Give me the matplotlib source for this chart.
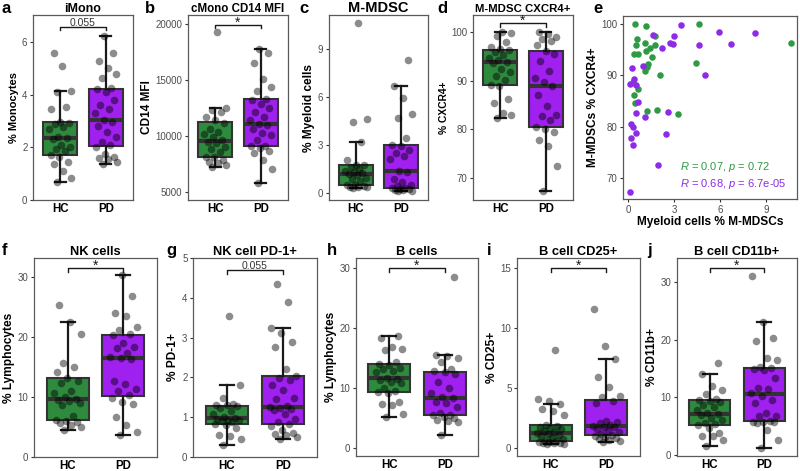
import numpy as np
import matplotlib.pyplot as plt

plt.rcParams['font.family'] = ['Liberation Sans', 'DejaVu Sans']
plt.rcParams['mathtext.fontset'] = 'custom'
plt.rcParams['mathtext.rm'] = 'Liberation Sans'
plt.rcParams['mathtext.it'] = 'Liberation Sans:italic'

GREEN = '#2e8b3e'
PURPLE = '#a020f0'
SC_GREEN = '#2f9a44'
SC_PURPLE = '#8d2be6'
EDGE = '#333333'
FIG_W, FIG_H = 800, 471

groups = ['HC', 'PD']

# a: iMono (% Monocytes)
imono_hc = [0.7, 0.82, 1.1, 1.35, 1.45, 1.62, 1.7, 1.85, 1.95, 2.02, 2.1, 2.3, 2.35,
            2.4, 2.7, 2.78, 2.9, 2.93, 2.95, 3.45, 3.55, 4.12, 4.15, 5.1, 5.6]
imono_pd = [1.38, 1.45, 1.55, 1.6, 1.65, 1.75, 2.0, 2.1, 2.2, 2.4, 2.6, 2.8, 2.95, 3.03,
            3.3, 3.45, 3.6, 3.8, 4.1, 4.2, 4.26, 4.65, 4.8, 5.0, 5.3, 5.6, 6.25]

# b: cMono CD14 MFI
cd14_hc = [7250, 7400, 7550, 7700, 7850, 8100, 8150, 8600, 8850, 9050, 9400, 9500,
           9620, 9900, 10200, 10350, 10650, 11200, 11450, 11700, 12150, 12300, 12500, 19250]
cd14_pd = [5800, 7100, 7850, 8450, 8700, 8950, 9100, 9130, 9650, 10100, 10300, 10650,
           10950, 11050, 11400, 11700, 12150, 12500, 12900, 13250, 13330, 14050, 14350,
           15050, 16550, 17400, 17750]

# c: M-MDSC (% Myeloid cells)
mdsc_hc = [0.32, 0.34, 0.36, 0.4, 0.44, 0.47, 0.5, 0.72, 0.85, 0.95, 1.12, 1.2, 1.22,
           1.3, 1.38, 1.5, 1.6, 1.72, 1.75, 2.08, 3.2, 4.4, 4.6, 10.6]
mdsc_pd = [0.1, 0.15, 0.18, 0.2, 0.22, 0.26, 0.3, 0.32, 0.45, 0.52, 0.68, 0.85, 1.3, 1.4,
           2.1, 2.3, 2.5, 2.65, 2.95, 3.0, 3.45, 4.65, 4.95, 5.9, 6.65, 8.3]

# d: M-MDSC CXCR4+
cxcr4_hc = [82.3, 83.0, 83.4, 85.4, 86.3, 89.0, 89.2, 90.2, 90.9, 91.7, 92.4, 93.6, 93.9,
            94.3, 94.7, 95.3, 95.8, 96.3, 96.6, 97.0, 97.9, 99.2, 99.8, 100.0]
cxcr4_pd = [67.3, 72.5, 76.5, 77.9, 79.5, 80.0, 80.5, 82.0, 82.7, 83.0, 84.9, 87.0, 89.0,
            89.8, 90.5, 91.9, 94.0, 95.5, 96.2, 97.4, 98.1, 98.5, 98.9, 99.6, 100.0]

# e: correlation scatter
scat_x_hc = [0.46, 1.15, 0.57, 0.52, 1.07, 0.41, 0.67, 1.15, 1.43, 1.76, 1.76, 1.54, 1.28,
             1.22, 1.07, 2.09, 0.35, 0.67, 0.39, 0.46, 1.22, 1.91, 3.28, 4.43, 4.61, 10.63]
scat_y_hc = [100.0, 99.6, 97.2, 95.9, 96.4, 94.1, 94.1, 94.7, 95.4, 96.0, 97.7, 93.6, 92.3,
             91.7, 90.8, 90.0, 88.7, 87.3, 86.1, 84.6, 83.1, 83.3, 82.4, 92.5, 100.0, 96.4]
scat_x_pd = [3.43, 1.65, 3.0, 5.89, 8.28, 2.7, 2.91, 4.65, 6.7, 2.22, 1.0, 0.24, 4.98, 0.41,
             0.13, 0.52, 0.67, 0.5, 1.11, 2.63, 0.2, 0.3, 0.52, 2.46, 0.2, 0.3, 1.96, 0.15]
scat_y_pd = [99.8, 97.9, 97.7, 98.4, 98.3, 96.4, 96.2, 96.0, 96.2, 95.4, 91.8, 91.5, 90.0,
             89.3, 88.4, 88.1, 84.8, 82.7, 81.9, 82.9, 80.6, 80.0, 78.7, 78.5, 77.8, 76.5,
             72.5, 67.3]
stat_hc = r'$\it{R}$ = 0.07, $\it{p}$ = 0.72'
stat_pd = r'$\it{R}$ = 0.68, $\it{p}$ = 6.7e-05'

# f: NK cells
nk_hc = [4.55, 5.0, 5.4, 5.7, 5.9, 6.0, 6.2, 6.8, 8.6, 9.0, 9.3, 9.5, 9.7, 10.0, 10.6,
         11.0, 12.3, 12.6, 13.1, 14.2, 15.0, 15.7, 20.6, 22.6, 25.3]
nk_pd = [3.6, 4.1, 5.3, 6.6, 8.9, 9.2, 9.8, 10.4, 11.0, 11.3, 12.1, 12.6, 16.3, 16.55,
         16.7, 17.3, 18.2, 18.4, 19.0, 20.3, 20.5, 21.2, 21.7, 23.6, 24.0, 26.9, 30.3]

# g: NK cell PD-1+
pd1_hc = [0.29, 0.46, 0.52, 0.56, 0.72, 0.8, 0.83, 0.87, 0.9, 0.92, 0.94, 0.96, 0.98, 1.0,
          1.09, 1.15, 1.22, 1.27, 1.31, 1.31, 1.33, 1.47, 1.82, 3.55]
pd1_pd = [0.46, 0.5, 0.55, 0.58, 0.61, 0.67, 0.78, 0.83, 0.87, 0.95, 1.07, 1.17, 1.2, 1.24,
          1.25, 1.27, 1.45, 1.48, 1.68, 1.82, 1.93, 1.98, 2.04, 2.2, 2.76, 2.88, 3.11, 3.24,
          3.89, 4.34]

# h: B cells
bcell_hc = [5.15, 5.7, 7.2, 7.4, 7.7, 9.2, 9.35, 9.55, 10.1, 10.8, 11.1, 11.4, 11.55, 11.7,
            12.7, 12.9, 13.2, 13.4, 13.85, 14.0, 14.4, 16.3, 16.6, 16.9, 18.4, 18.65]
bcell_pd = [2.21, 4.43, 4.5, 4.7, 5.1, 5.2, 5.5, 5.6, 5.8, 6.9, 7.47, 7.75, 8.3, 8.5, 9.13,
            9.96, 11.07, 12.45, 12.7, 12.8, 13.2, 14.4, 15.0, 15.4, 15.5, 28.6]

# i: B cell CD25+
cd25_hc = [0.32, 0.35, 0.4, 0.42, 0.45, 0.5, 0.52, 0.55, 0.6, 0.75, 0.85, 1.0, 1.1, 1.2,
           1.25, 1.3, 1.45, 1.55, 1.65, 1.75, 1.82, 1.88, 2.77, 3.04, 3.24, 3.65, 3.93,
           4.1, 8.16]
cd25_pd = [0.5, 0.55, 0.69, 0.75, 0.85, 0.95, 1.03, 1.06, 1.2, 1.35, 1.44, 1.55, 1.72, 1.76,
           1.84, 1.94, 2.1, 2.2, 2.27, 3.74, 3.9, 4.22, 4.35, 5.04, 5.95, 7.39, 8.5, 11.57]

# j: B cell CD11b+
cd11b_hc = [1.62, 2.6, 3.2, 3.36, 3.88, 4.63, 5.15, 5.35, 5.5, 6.08, 6.37, 6.9, 7.05, 7.2,
            7.8, 8.4, 8.7, 9.26, 9.4, 9.5, 9.7, 10.5, 11.2, 12.0, 14.07, 16.0]
cd11b_pd = [1.16, 2.5, 4.34, 5.6, 5.7, 5.75, 5.78, 5.8, 6.7, 6.8, 7.2, 9.0, 9.55, 10.3,
            10.8, 11.4, 11.6, 13.3, 14.8, 14.95, 15.02, 15.3, 16.5, 16.9, 19.8, 20.3, 23.0,
            31.1]


def px_axes(fig, left, top, right, bottom):
    """Add axes from pixel box (origin top-left)."""
    return fig.add_axes([left / FIG_W, 1 - bottom / FIG_H,
                         (right - left) / FIG_W, (bottom - top) / FIG_H])


def jitter(n, width=0.25):
    # deterministic spread of points around the category centre
    k = np.arange(n)
    return ((k * 0.618034 + 0.37) % 1.0 - 0.5) * 2 * width


def style_axes(ax):
    for sp in ax.spines.values():
        sp.set_color('#5a5a5a')
        sp.set_linewidth(0.9)
    ax.tick_params(axis='both', length=2.5, width=0.8, color='#333333',
                   labelsize=7, labelcolor='#4d4d4d', pad=1.5)


def box_panel(ax, hc, pdv, title, ylabel, ylim, yticks, sig=None, sig_y=None,
              title_size=9.3, label_size=8.6):
    data = [hc, pdv]
    bp = ax.boxplot(data, positions=[1, 2], widths=0.75, patch_artist=True,
                    showfliers=False, capwidths=0.25, zorder=2,
                    boxprops=dict(edgecolor=EDGE, linewidth=1.5),
                    medianprops=dict(color=EDGE, linewidth=3),
                    whiskerprops=dict(color='#1a1a1a', linewidth=1.6),
                    capprops=dict(color='#1a1a1a', linewidth=1.6))
    for patch, c in zip(bp['boxes'], [GREEN, PURPLE]):
        patch.set_facecolor(c)
    for i, vals in enumerate(data):
        xs = (i + 1) + jitter(len(vals))
        ax.scatter(xs, vals, s=30, color='black', alpha=0.45, linewidths=0, zorder=3)

    if sig is not None:
        tip = (ylim[1] - ylim[0]) * 0.018
        ax.plot([1, 1, 2, 2], [sig_y - tip, sig_y, sig_y, sig_y - tip],
                color='#1a1a1a', lw=1, zorder=4)
        if sig == '*':
            ax.annotate(sig, (1.5, sig_y), xytext=(0, -3.5), textcoords='offset points',
                        ha='center', va='bottom', fontsize=10, color='#1a1a1a')
        else:
            ax.annotate(sig, (1.5, sig_y), xytext=(0, -0.5), textcoords='offset points',
                        ha='center', va='bottom', fontsize=7.5, color='#333333')

    ax.set_xlim(0.4, 2.6)
    ax.set_ylim(*ylim)
    ax.set_yticks(yticks)
    ax.set_xticks([1, 2])
    style_axes(ax)
    ax.tick_params(axis='x', length=0, pad=2.2)
    ax.set_xticklabels(groups, fontsize=8.3, fontweight='bold', color='black')
    ax.set_ylabel(ylabel, fontsize=label_size, fontweight='bold', labelpad=2)
    ax.set_title(title, fontsize=title_size, fontweight='bold', pad=2.5)


fig = plt.figure(figsize=(FIG_W / 100, FIG_H / 100), dpi=100)

ax_a = px_axes(fig, 33, 15, 133, 200)
box_panel(ax_a, imono_hc, imono_pd, 'iMono', '% Monocytes', (0, 7.03), [0, 2, 4, 6],
          '0.055', 6.57, title_size=9, label_size=8)

ax_b = px_axes(fig, 188, 15, 288, 200)
box_panel(ax_b, cd14_hc, cd14_pd, 'cMono CD14 MFI', 'CD14 MFI', (4290, 20800),
          [5000, 10000, 15000, 20000], '*', 19900, title_size=8.3, label_size=8.6)

ax_c = px_axes(fig, 329, 15, 428, 200)
box_panel(ax_c, mdsc_hc, mdsc_pd, 'M-MDSC', '% Myeloid cells', (-0.44, 11.1), [0, 3, 6, 9],
          title_size=10.5, label_size=8.6)

ax_d = px_axes(fig, 473, 15, 573, 200)
box_panel(ax_d, cxcr4_hc, cxcr4_pd, 'M-MDSC CXCR4+', '% CXCR4+', (65.5, 103.5),
          [70, 80, 90, 100], '*', 101.8, title_size=8.2, label_size=7.4)

# e: scatter
ax_e = px_axes(fig, 623, 16, 797, 199)
ax_e.scatter(scat_x_hc, scat_y_hc, s=22, color=SC_GREEN, linewidths=0, zorder=3)
ax_e.scatter(scat_x_pd, scat_y_pd, s=22, color=SC_PURPLE, linewidths=0, zorder=3)
ax_e.text(3.39, 72.2, stat_hc, color=SC_GREEN, fontsize=8, va='center', ha='left')
ax_e.text(3.39, 68.9, stat_pd, color=SC_PURPLE, fontsize=8, va='center', ha='left')
ax_e.set_xlim(-0.33, 11.0)
ax_e.set_ylim(65.9, 101.6)
ax_e.set_xticks([0, 3, 6, 9])
ax_e.set_yticks([70, 80, 90, 100])
style_axes(ax_e)
ax_e.set_xlabel('Myeloid cells % M-MDSCs', fontsize=8.6, fontweight='bold', labelpad=1)
ax_e.set_ylabel('M-MDSCs % CXCR4+', fontsize=8.6, fontweight='bold', labelpad=2)

ax_f = px_axes(fig, 34, 258, 157, 457)
box_panel(ax_f, nk_hc, nk_pd, 'NK cells', '% Lymphocytes', (0, 33.2), [0, 10, 20, 30],
          '*', 31.5)

ax_g = px_axes(fig, 193, 258, 317, 457)
box_panel(ax_g, pd1_hc, pd1_pd, 'NK cell PD-1+', '% PD-1+', (0, 5.0), [0, 1, 2, 3, 4, 5],
          '0.055', 4.7)

ax_h = px_axes(fig, 356, 258, 478, 456)
box_panel(ax_h, bcell_hc, bcell_pd, 'B cells', '% Lymphocytes', (-1.3, 31.7),
          [0, 10, 20, 30], '*', 30.0)

ax_i = px_axes(fig, 517, 258, 640, 456)
box_panel(ax_i, cd25_hc, cd25_pd, 'B cell CD25+', '% CD25+', (-0.67, 15.83),
          [0, 5, 10, 15], '*', 15.0)

ax_j = px_axes(fig, 677, 258, 797, 456)
box_panel(ax_j, cd11b_hc, cd11b_pd, 'B cell CD11b+', '% CD11b+', (-0.2, 34.2),
          [0, 10, 20, 30], '*', 32.4)

# panel letters (pixel x, baseline y)
letters = ['a', 'b', 'c', 'd', 'e', 'f', 'g', 'h', 'i', 'j']
letter_pos = [(2, 13), (145, 13), (299, 13), (437, 13), (593, 13),
              (2, 255), (166, 255), (327, 255), (487, 255), (647, 255)]
for lab, (lx, ly) in zip(letters, letter_pos):
    fig.text(lx / FIG_W, 1 - ly / FIG_H, lab, fontsize=12, fontweight='bold',
             ha='left', va='baseline')

fig.savefig('out.png', dpi=100)
